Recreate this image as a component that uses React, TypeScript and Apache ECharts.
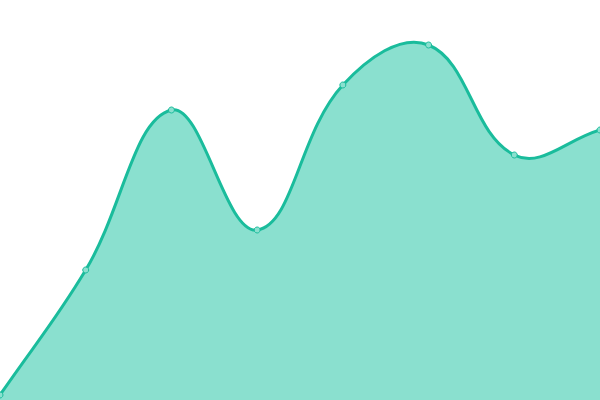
import { useEffect, useRef } from 'react';
import * as echarts from 'echarts';

const categories = ['A', 'B', 'C', 'D', 'E', 'F', 'G', 'H'];
const values = [5, 130, 290, 170, 315, 355, 245, 270];

const lineColor = '#1abc9c';
const fillColor = '#8ae0cf';
const tension = 0.4;

// cardinal-style spline through the projected points (overshoots like the reference)
function splinePath(pts: number[][]) {
    const n = pts.length;
    const cps: number[][] = [];
    for (let i = 0; i < n; i++) {
        const cur = pts[i];
        const prev = pts[i - 1] || cur;
        const next = pts[i + 1] || cur;
        const d01 = Math.hypot(cur[0] - prev[0], cur[1] - prev[1]);
        const d12 = Math.hypot(next[0] - cur[0], next[1] - cur[1]);
        const sum = d01 + d12 || 1;
        const fa = (tension * d01) / sum;
        const fb = (tension * d12) / sum;
        cps.push([
            cur[0] - fa * (next[0] - prev[0]),
            cur[1] - fa * (next[1] - prev[1]),
            cur[0] + fb * (next[0] - prev[0]),
            cur[1] + fb * (next[1] - prev[1]),
        ]);
    }
    let d = `M${pts[0][0]},${pts[0][1]}`;
    for (let i = 1; i < n; i++) {
        d += ` C${cps[i - 1][2]},${cps[i - 1][3]} ${cps[i][0]},${cps[i][1]} ${pts[i][0]},${pts[i][1]}`;
    }
    return d;
}

export default function App() {
    const chartRef = useRef<HTMLDivElement>(null);

    useEffect(() => {
        document.body.style.margin = '0';
        const myChart = echarts.init(chartRef.current, null, { renderer: 'svg' });

        myChart.setOption({
            animation: false,
            grid: { left: 0, right: 0, top: 0, bottom: 0 },
            xAxis: {
                type: 'category',
                data: categories,
                boundaryGap: false,
                show: false,
            },
            yAxis: {
                type: 'value',
                min: 0,
                max: 400,
                show: false,
            },
            series: [
                {
                    type: 'custom',
                    z: 1,
                    clip: true,
                    data: [[0, 0]],
                    renderItem: (_params: any, api: any) => {
                        const pts = values.map((v, i) => api.coord([i, v]));
                        const line = splinePath(pts);
                        const base0 = api.coord([0, 0]);
                        const base1 = api.coord([values.length - 1, 0]);
                        const area = `${line} L${base1[0]},${base1[1]} L${base0[0]},${base0[1]} Z`;
                        return {
                            type: 'group',
                            children: [
                                { type: 'path', shape: { pathData: area }, style: { fill: fillColor } },
                                {
                                    type: 'path',
                                    shape: { pathData: line },
                                    style: { fill: 'none', stroke: lineColor, lineWidth: 3 },
                                },
                            ],
                        };
                    },
                },
                {
                    type: 'line',
                    z: 2,
                    data: values,
                    symbol: 'circle',
                    symbolSize: 6,
                    lineStyle: { width: 0, opacity: 0 },
                    itemStyle: { color: fillColor, borderColor: lineColor, borderWidth: 1 },
                },
            ],
        });

        return () => {
            myChart.dispose();
        };
    }, []);

    return <div ref={chartRef} style={{ width: '600px', height: '400px' }} />;
}
